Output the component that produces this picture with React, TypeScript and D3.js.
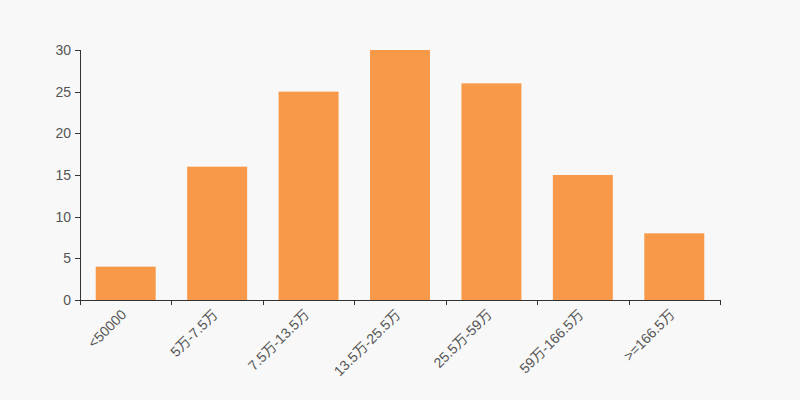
import React from "react";
import * as d3 from "d3";

const categories = ["<50000", "5万-7.5万", "7.5万-13.5万", "13.5万-25.5万", "25.5万-59万", "59万-166.5万", ">=166.5万"];
const counts = [4, 16, 25, 30, 26, 15, 8];
const yTicks = [0, 5, 10, 15, 20, 25, 30];

const W = 800;
const H = 400;
const margin = { top: 50, right: 80, bottom: 100, left: 80 };

export default function App() {
  const x = d3
    .scaleBand<string>()
    .domain(categories)
    .range([margin.left, W - margin.right])
    .paddingInner(0.344)
    .paddingOuter(0.172);
  // outer bands are the full slot width, bars sit centred in them
  const slot = (W - margin.left - margin.right) / categories.length;
  const y = d3.scaleLinear().domain([0, 30]).range([H - margin.bottom, margin.top]);
  const font = "'Liberation Sans', Arial, 'Noto Sans CJK SC', sans-serif";

  return (
    <svg width={W} height={H} style={{ position: "absolute", left: 0, top: 0, background: "#f8f8f8" }} fontFamily={font}>
      {categories.map((c, i) => (
        <rect
          key={c}
          x={x(c)}
          y={y(counts[i])}
          width={x.bandwidth()}
          height={y(0) - y(counts[i])}
          fill="#f8994a"
        />
      ))}
      {/* y axis */}
      <line x1={margin.left + 0.5} x2={margin.left + 0.5} y1={y(30)} y2={y(0)} stroke="#333" />
      {yTicks.map((t) => (
        <g key={t} transform={`translate(0,${Math.round(y(t)) + 0.5})`}>
          <line x1={margin.left - 5} x2={margin.left} stroke="#333" />
          <text x={margin.left - 9} dy="0.35em" textAnchor="end" fontSize={14} fill="#555">
            {t}
          </text>
        </g>
      ))}
      {/* x axis */}
      <line x1={margin.left} x2={W - margin.right} y1={y(0) + 0.5} y2={y(0) + 0.5} stroke="#333" />
      {d3.range(categories.length + 1).map((i) => {
        const px = Math.round(margin.left + i * slot) + 0.5;
        return <line key={i} x1={px} x2={px} y1={y(0)} y2={y(0) + 5} stroke="#333" />;
      })}
      {categories.map((c) => {
        const cx = (x(c) ?? 0) + x.bandwidth() / 2;
        return (
          <text
            key={c}
            transform={`translate(${cx - 2},${y(0) + 12}) rotate(-45)`}
            textAnchor="end"
            dy="0.35em"
            fontSize={14}
            fill="#555"
          >
            {c}
          </text>
        );
      })}
    </svg>
  );
}
